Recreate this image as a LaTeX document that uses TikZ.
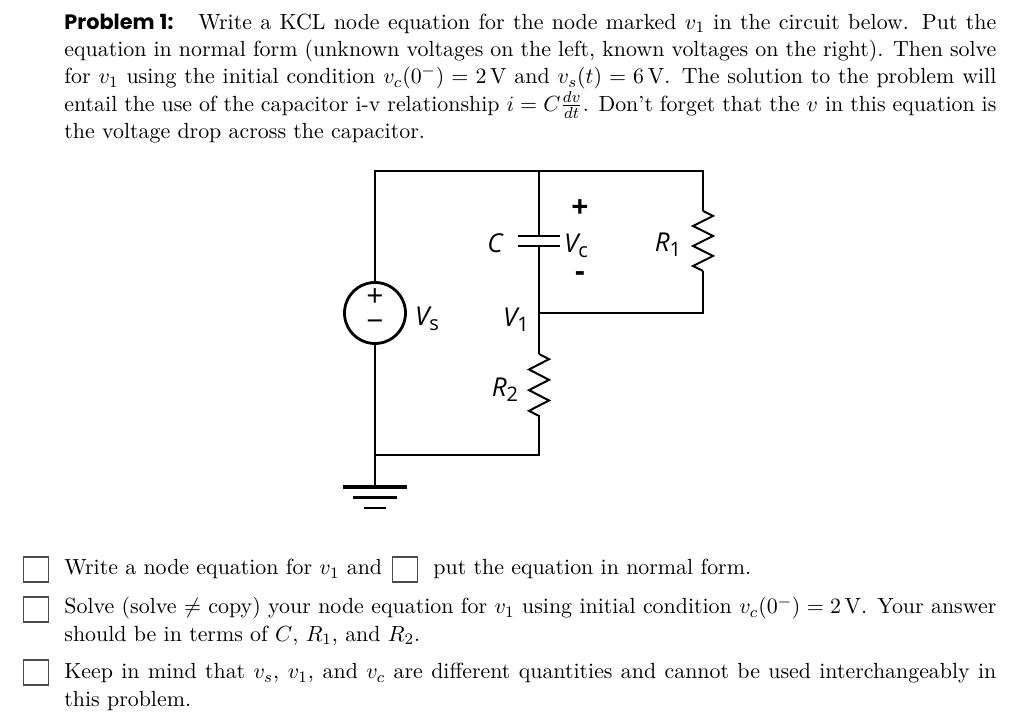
\documentclass[tikz,border=0pt]{standalone}
\usepackage{fontspec}
\usepackage{amsmath}
\usetikzlibrary{calc}
\newfontfamily\probfont{Poppins}
\newfontfamily\labfont{Open Sans}
\newcommand\lsub[1]{\raisebox{-2.4pt}{\fontsize{10}{11}\selectfont\upshape #1}}
\begin{document}
\begin{tikzpicture}[x=0.5pt,y=-0.5pt,
  wire/.style={line width=1pt, line join=miter},
  plate/.style={line width=1.3pt},
  gbar/.style={line width=1.4pt},
  lab/.style={inner sep=0pt, font=\labfont\fontsize{13}{14}\selectfont\itshape},
  sgn/.style={inner sep=0pt, font=\labfont\fontsize{15}{16}\selectfont},
  bsgn/.style={inner sep=0pt, font=\labfont\fontsize{15}{16}\selectfont\bfseries},
  body/.style={inner sep=0pt, anchor=base west, font=\fontsize{10.95}{13.6}\selectfont},
  cbox/.style={draw=black!70, line width=0.7pt, minimum size=12.5pt, inner sep=0pt}]
\useasboundingbox (0,0) rectangle (1024,726);
% header text
\node[body] (prob) at (64,29.5) {\parbox[t]{466pt}{{\probfont\bfseries\fontsize{10.4}{13.6}\selectfont Problem 1:}\hspace*{12.5pt}Write a KCL node equation for the node marked $v_1$ in the circuit below. Put the equation in normal form (unknown voltages on the left, known voltages on the right). Then solve for $v_1$ using the initial condition $v_c(0^-) = 2\,\mathrm{V}$ and $v_s(t) = 6\,\mathrm{V}$. The solution to the problem will entail the use of the capacitor i-v relationship $i = C\frac{dv}{dt}$. Don't forget that the $v$ in this equation is the voltage drop across the capacitor.}};
% circuit coordinates
\coordinate (tl) at (375,171);
\coordinate (tm) at (539,171);
\coordinate (tr) at (703,171);
\node[circle, draw, line width=1.4pt, minimum size=30.5pt, inner sep=0pt] (src) at (375,313) {};
\coordinate (capt) at (539,236);
\coordinate (capb) at (539,246);
\coordinate (v1) at (539,313);
\coordinate (r2t) at (539,354);
\coordinate (r2b) at (539,416);
\coordinate (bm) at (539,455);
\coordinate (bl) at (375,455);
\coordinate (gnd) at (375,487);
\coordinate (r1t) at (703,211);
\coordinate (r1b) at (703,271);
\coordinate (rj) at (703,313);
% wires
\draw[wire] (src.north) -- (tl) -- (tr) -- (r1t);
\draw[wire] (tm) -- (capt);
\draw[wire] (capb) -- (v1) -- (r2t);
\draw[wire] (v1) -- (rj) -- (r1b);
\draw[wire] (r2b) -- (bm) -- (bl);
\draw[wire] (src.south) -- (gnd);
% capacitor plates
\draw[plate] ($(capt)+(-21,0)$) -- ($(capt)+(21,0)$);
\draw[plate] ($(capb)+(-21,0)$) -- ($(capb)+(21,0)$);
% resistors
\draw[wire] (r2t) -- ++(10,5.17) -- ++(-20,10.33) -- ++(20,10.33) -- ++(-20,10.33) -- ++(20,10.33) -- ++(-20,10.33) -- ++(10,5.17) -- (r2b);
\draw[wire] (r1t) -- ++(10,5) -- ++(-20,10) -- ++(20,10) -- ++(-20,10) -- ++(20,10) -- ++(-20,10) -- ++(10,5) -- (r1b);
% ground
\draw[line width=1.7pt] ($(gnd)+(-32,0)$) -- ($(gnd)+(32,0)$);
\draw[gbar] ($(gnd)+(-22,10.5)$) -- ($(gnd)+(22,10.5)$);
\draw[gbar] ($(gnd)+(-11,21)$) -- ($(gnd)+(11,21)$);
% source signs
\node[sgn] (sp) at (375,298) {+};
\node[sgn] (sm) at (375,326) {−};
% labels
\node[lab] (lc) at (495,243) {C};
\node[lab] (lvc) at (576,246) {V\lsub{c}};
\node[bsgn] (cp) at (580,209) {+};
\node[bsgn] (cm) at (580,277) {-};
\node[lab] (lr1) at (668,245) {R\lsub{1}};
\node[lab] (lvs) at (427,319) {V\lsub{s}};
\node[lab] (lv1) at (516,320) {V\lsub{1}};
\node[lab] (lr2) at (505,390) {R\lsub{2}};
% checklist
\node[cbox] (b1) at (36,569.5) {};
\node[body] (t1) at (64,575) {Write a node equation for $v_1$ and};
\node[cbox] (b2) at (405,569.5) {};
\node[body] (t2) at (433,575) {put the equation in normal form.};
\node[cbox] (b3) at (36,609.5) {};
\node[body] (t3) at (64,614) {\parbox[t]{466pt}{Solve (solve $\neq$ copy) your node equation for $v_1$ using initial condition $v_c(0^-) = 2\,\mathrm{V}$. Your answer should be in terms of $C$, $R_1$, and $R_2$.}};
\node[cbox] (b4) at (36,672.5) {};
\node[body] (t4) at (64,679) {\parbox[t]{466pt}{Keep in mind that $v_s$, $v_1$, and $v_c$ are different quantities and cannot be used interchangeably in this problem.}};
\end{tikzpicture}
\end{document}
